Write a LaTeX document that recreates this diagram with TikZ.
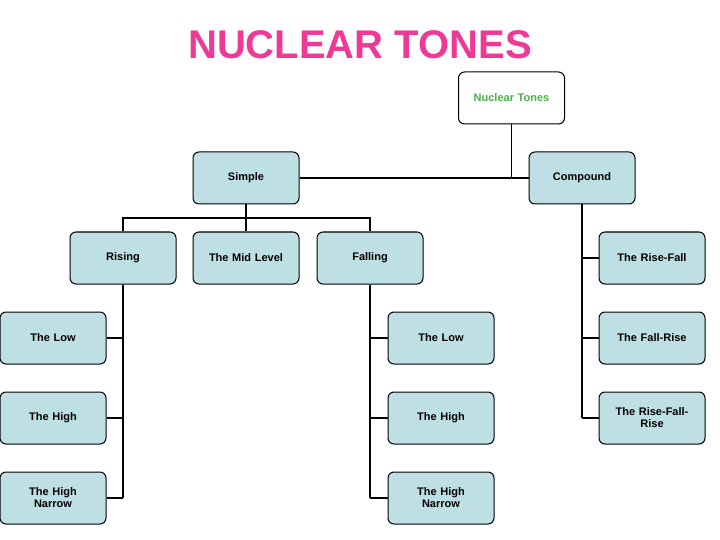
\documentclass[tikz,border=0pt]{standalone}
\usepackage{fontspec}
\setmainfont{Liberation Sans}
\begin{document}
\begin{tikzpicture}[x=1pt,y=-1pt,
  bx/.style={draw=black,line width=1pt,rounded corners=6pt,fill=boxc,minimum width=106pt,minimum height=52pt,inner sep=1pt,align=center,text width=100pt,font=\fontsize{11}{12}\selectfont\bfseries},
  ln/.style={line width=1.5pt}]
\definecolor{boxc}{HTML}{BEDFE3}
\definecolor{pinkc}{HTML}{EE3A97}
\definecolor{greenc}{HTML}{4CB04C}
\useasboundingbox (0,0) rectangle (720,540);
\node[font=\fontsize{40}{44}\selectfont\bfseries,text=pinkc] (title) at (360,45) {NUCLEAR TONES};
\node[bx,fill=white,text=greenc] (nt) at (511.5,98) {Nuclear Tones};
\node[bx] (simple) at (246,178) {Simple};
\node[bx] (comp) at (582,178) {Compound};
\node[bx] (rising) at (123,258) {Rising};
\node[bx] (mid) at (246,258) {The Mid Level};
\node[bx] (falling) at (370,258) {Falling};
\node[bx] (rf) at (652,258) {The Rise-Fall};
\node[bx] (fr) at (652,338) {The Fall-Rise};
\node[bx] (rfr) at (652,418) {The Rise-Fall-\\Rise};
\node[bx] (l1) at (53,338) {The Low};
\node[bx] (l2) at (53,418) {The High};
\node[bx] (l3) at (53,498) {The High\\Narrow};
\node[bx] (f1) at (441,338) {The Low};
\node[bx] (f2) at (441,418) {The High};
\node[bx] (f3) at (441,498) {The High\\Narrow};
\coordinate (j1) at (511.5,178);
\draw[ln] (nt.south) -- (j1);
\draw[ln] (simple.east) -- (comp.west);
\coordinate (j2) at (246,218);
\draw[ln] (simple.south) -- (j2);
\draw[ln] (rising.north) |- (j2) -| (falling.north);
\draw[ln] (j2) -- (mid.north);
\coordinate (c4) at (582,418);
\draw[ln] (comp.south) -- (c4);
\draw[ln] (582,258) -- (rf.west);
\draw[ln] (582,338) -- (fr.west);
\draw[ln] (c4) -- (rfr.west);
\coordinate (r4) at (123,498);
\draw[ln] (rising.south) -- (r4);
\draw[ln] (123,338) -- (l1.east);
\draw[ln] (123,418) -- (l2.east);
\draw[ln] (r4) -- (l3.east);
\coordinate (q4) at (370,498);
\draw[ln] (falling.south) -- (q4);
\draw[ln] (370,338) -- (f1.west);
\draw[ln] (370,418) -- (f2.west);
\draw[ln] (q4) -- (f3.west);
\end{tikzpicture}
\end{document}
